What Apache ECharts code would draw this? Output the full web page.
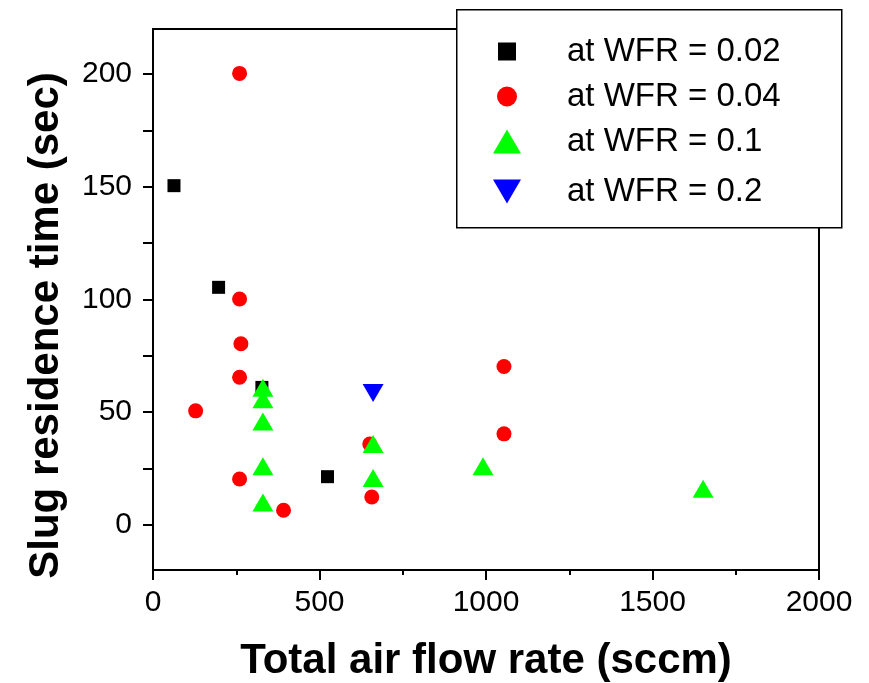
<!DOCTYPE html>
<html>
<head>
<meta charset="utf-8">
<script src="https://cdn.jsdelivr.net/npm/echarts@6/dist/echarts.min.js"></script>
<style>
html,body{margin:0;padding:0;background:#fff;}
#chart{width:869px;height:683px;}
</style>
</head>
<body>
<div id="chart"></div>
<script>
// ---- data (x: total air flow rate in sccm, y: slug residence time in sec) ----
const wfr002 = [[63, 150.5], [197, 105.4], [327, 61], [524, 21.4]];
const wfr004 = [[260, 200.3], [260, 100.2], [264, 80.4], [260, 65.5], [128, 50.6], [260, 20.4],
                [392, 6.5], [657, 12.4], [651, 35.9], [1054, 70.3], [1054, 40.4]];
const wfr01 = [[330, 60.9], [330, 55.7], [330, 45.9], [330, 26], [330, 10], [661, 35.9],
               [661, 20.8], [991, 26], [1652, 16]];
const wfr02 = [[661, 58.5]];
const seriesNames = ['at WFR = 0.02', 'at WFR = 0.04', 'at WFR = 0.1', 'at WFR = 0.2'];
const yTickValues = [0, 25, 50, 75, 100, 125, 150, 175, 200];
const yLabelValues = [0, 50, 100, 150, 200];
const xTickLabels = [0, 500, 1000, 1500, 2000];

const FONT = 'Arial, "Liberation Sans", Helvetica, sans-serif';
const downTri = 'path://M0,0 L2,0 L1,1.7 Z';

const legendRows = [
  {name: seriesNames[0], center: 51, w: 18, h: 18},
  {name: seriesNames[1], center: 96, w: 20, h: 20},
  {name: seriesNames[2], center: 141, w: 28, h: 24},
  {name: seriesNames[3], center: 191, w: 28, h: 24}
];
const legends = legendRows.map(r => ({
  data: [r.name],
  orient: 'vertical',
  left: 507 - r.w / 2,
  top: r.center - 16,
  padding: 0,
  itemWidth: r.w,
  itemHeight: r.h,
  selectedMode: false,
  z: 12,
  textStyle: {fontFamily: FONT, fontSize: 33, color: '#000', padding: [0, 0, 0, 55 - r.w / 2]}
}));

const chart = echarts.init(document.getElementById('chart'), null, {renderer: 'canvas'});
chart.setOption({
  backgroundColor: '#fff',
  animation: false,
  grid: {left: 153, top: 29, right: 50, bottom: 113, show: true, borderColor: '#000', borderWidth: 2,
         containLabel: false, outerBoundsMode: 'none'},
  graphic: [{
    type: 'rect', z: 10, left: 456, top: 9,
    shape: {width: 385, height: 218},
    style: {fill: '#fff', stroke: '#000', lineWidth: 1.5}
  }],
  legend: legends,
  xAxis: {
    type: 'value', min: 0, max: 2000, interval: 500,
    name: 'Total air flow rate (sccm)', nameLocation: 'middle', nameGap: 70,
    nameTextStyle: {fontFamily: FONT, fontSize: 42, fontWeight: 'bold', color: '#000'},
    axisLine: {show: true, onZero: false, lineStyle: {color: '#000', width: 2}},
    axisTick: {show: true, inside: false, length: 10, lineStyle: {color: '#000', width: 2}},
    minorTick: {show: true, splitNumber: 2, length: 5, lineStyle: {color: '#000', width: 2}},
    axisLabel: {fontFamily: FONT, fontSize: 30, color: '#000', margin: 18,
      formatter: v => xTickLabels.includes(v) ? String(v) : ''},
    splitLine: {show: false}
  },
  yAxis: {
    type: 'value', min: -20, max: 220,
    name: 'Slug residence time (sec)', nameLocation: 'middle', nameGap: 86,
    nameTextStyle: {fontFamily: FONT, fontSize: 42, fontWeight: 'bold', color: '#000', padding: [0, 52, 0, 0]},
    axisLine: {show: true, onZero: false, lineStyle: {color: '#000', width: 2}},
    axisTick: {show: true, inside: false, length: 10, customValues: yTickValues, lineStyle: {color: '#000', width: 2}},
    axisLabel: {fontFamily: FONT, fontSize: 30, color: '#000', margin: 21, customValues: yLabelValues},
    splitLine: {show: false}
  },
  series: [
    {name: seriesNames[0], type: 'scatter', data: wfr002, symbol: 'rect', symbolSize: 13,
     itemStyle: {color: '#000000', opacity: 1}},
    {name: seriesNames[1], type: 'scatter', data: wfr004, symbol: 'circle', symbolSize: 15,
     itemStyle: {color: '#ff0000', opacity: 1}},
    {name: seriesNames[2], type: 'scatter', data: wfr01, symbol: 'triangle', symbolSize: [21, 18],
     itemStyle: {color: '#00ff00', opacity: 1}},
    {name: seriesNames[3], type: 'scatter', data: wfr02, symbol: downTri, symbolSize: [21, 18],
     itemStyle: {color: '#0000ff', opacity: 1}}
  ]
});
</script>
</body>
</html>
